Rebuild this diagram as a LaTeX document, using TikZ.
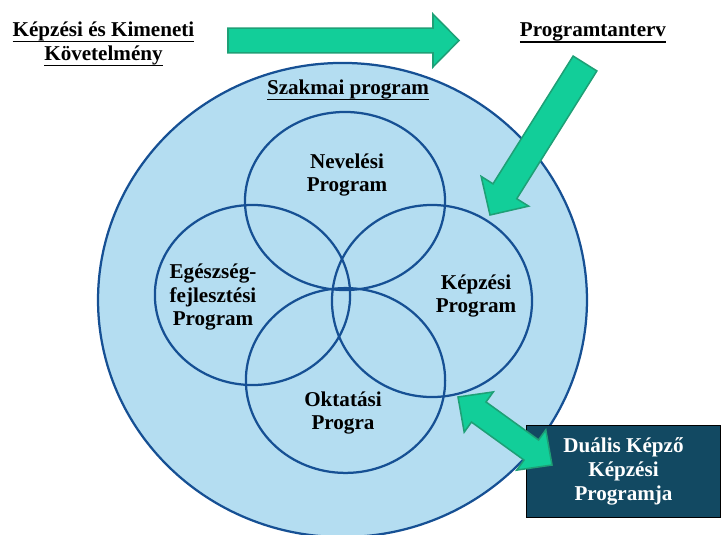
\documentclass[tikz,border=0pt]{standalone}
\usepackage{fontspec}
\setmainfont{Liberation Serif}
\usepackage{tikz}
\usetikzlibrary{calc,shapes.geometric}

\definecolor{ringblue}{RGB}{22,80,148}
\definecolor{ringfill}{RGB}{180,221,241}
\definecolor{arrowgreen}{RGB}{18,206,153}
\definecolor{arrowedge}{RGB}{30,160,118}
\definecolor{boxteal}{RGB}{18,73,98}

% thick underline for the titles
\newcommand{\thickul}[1]{\setbox0\hbox{#1}\leavevmode\rlap{\rule[-4.4pt]{\wd0}{1.1pt}}\box0}

\tikzset{
  ring/.style={draw=ringblue, line width=1.6pt, ellipse, inner sep=0pt},
  label text/.style={font=\bfseries\fontsize{15}{17}\selectfont, align=center, inner sep=0pt},
  arrowfill/.style={fill=arrowgreen, draw=arrowedge, line width=1.1pt, line join=miter}
}

% block arrow: start, end, shaft half width, head half width, head length
\newcommand{\blockarrow}[5]{%
  \coordinate (ba-h) at ($(#2)!#5!(#1)$);
  \filldraw[arrowfill] ($(#1)!#3!90:(#2)$) -- ($(ba-h)!#3!90:(#2)$)
    -- ($(ba-h)!#4!90:(#2)$) -- (#2) -- ($(ba-h)!#4!-90:(#2)$)
    -- ($(ba-h)!#3!-90:(#2)$) -- ($(#1)!#3!-90:(#2)$) -- cycle;
}
% double headed block arrow
\newcommand{\twowayarrow}[5]{%
  \coordinate (ba-a) at ($(#1)!#5!(#2)$);
  \coordinate (ba-b) at ($(#2)!#5!(#1)$);
  \filldraw[arrowfill] (#1) -- ($(ba-a)!#4!90:(#2)$) -- ($(ba-a)!#3!90:(#2)$)
    -- ($(ba-b)!#3!90:(#2)$) -- ($(ba-b)!#4!90:(#2)$) -- (#2)
    -- ($(ba-b)!#4!-90:(#2)$) -- ($(ba-b)!#3!-90:(#2)$)
    -- ($(ba-a)!#3!-90:(#2)$) -- ($(ba-a)!#4!-90:(#2)$) -- cycle;
}

\begin{document}
\begin{tikzpicture}[x=0.025cm, y=-0.025cm]
 \useasboundingbox (0,0) rectangle (723,534);

 % Outer ring - professional program
 \node[ring, fill=ringfill, minimum width=12.22cm, minimum height=11.85cm] (szakmai) at (342.5,300) {};

 % Four overlapping programs
 \node[ring, minimum width=5cm, minimum height=4.45cm] (neveles) at (345,201) {};
 \node[ring, minimum width=4.88cm, minimum height=4.5cm] (egeszseg) at (252.5,295) {};
 \node[ring, minimum width=5cm, minimum height=4.8cm] (kepzes) at (432,301) {};
 \node[ring, minimum width=4.98cm, minimum height=4.62cm] (oktatas) at (345.5,380.5) {};

 % Dual training box
 \node[draw=black, line width=1pt, fill=boxteal, text=white, label text,
   minimum width=4.85cm, minimum height=2.3cm] (dualis) at (623.5,471.5)
   {Duális Képző\\Képzési\\Programja};

 % Titles
 \node[label text] (kkk) at (103.5,44) {\thickul{Képzési és Kimeneti}\\\thickul{Követelmény}};
 \node[label text] (tanterv) at (593,33) {\thickul{Programtanterv}};
 \node[label text] (szakmaitxt) at (348,90) {\thickul{Szakmai program}};

 % Texts of the programs
 \node[label text] (nevelestxt) at (347,175) {Nevelési\\Program};
 \node[label text] (egeszsegtxt) at (213,297) {Egészség-\\fejlesztési\\Program};
 \node[label text] (kepzestxt) at (476,296) {Képzési\\Program};
 \node[label text] (oktatastxt) at (343,413) {Oktatási\\Progra};

 % Arrow ends
 \coordinate (kkk-out) at (228,40.5);
 \coordinate (tanterv-in) at (459,40.5);
 \coordinate (tanterv-out) at (585,63.5);
 \coordinate (kepzes-in) at (490,215);
 \coordinate (kepzes-out) at (458,397);
 \coordinate (dualis-in) at (552,465);

 % Green arrows
 \blockarrow{kkk-out}{tanterv-in}{0.31cm}{0.66cm}{0.65cm}
 \blockarrow{tanterv-out}{kepzes-in}{0.35cm}{0.70cm}{0.70cm}
 \twowayarrow{kepzes-out}{dualis-in}{0.31cm}{0.62cm}{0.64cm}
\end{tikzpicture}
\end{document}
